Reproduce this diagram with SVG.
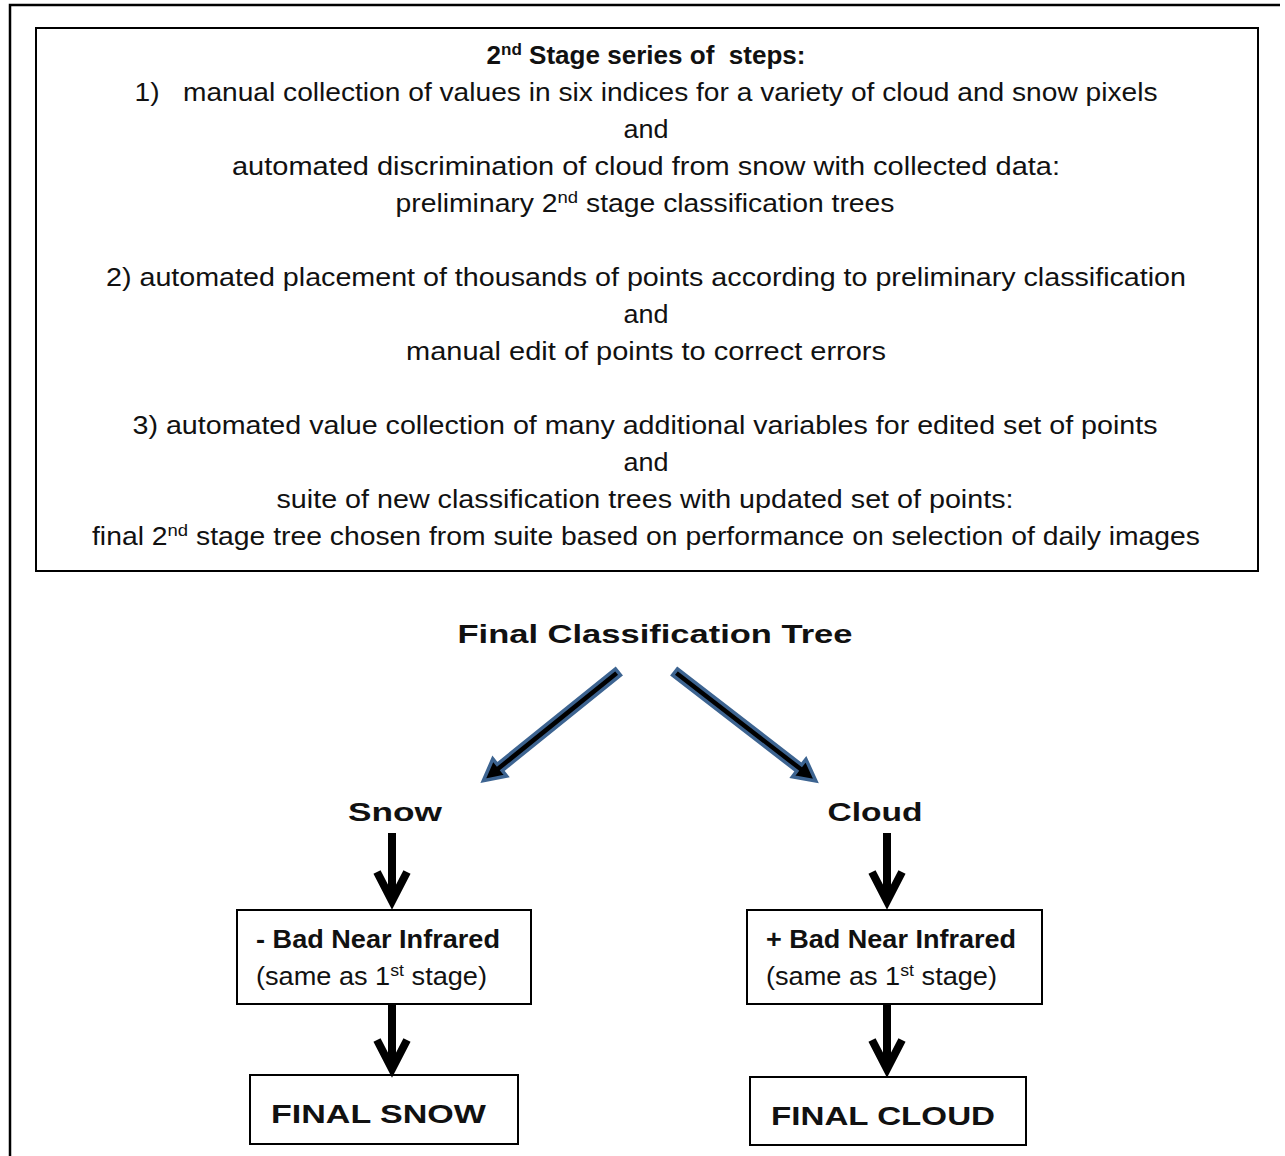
<svg xmlns="http://www.w3.org/2000/svg" width="1285" height="1156" viewBox="0 0 1285 1156">
<style>
.t{font-family:"Liberation Sans",Arial,sans-serif;font-size:26px;fill:#111;white-space:pre;}
.b{font-weight:bold;}
.box{fill:#fff;stroke:#000;stroke-width:2;}
.va{stroke:#000;stroke-width:8;fill:none;}
.da{fill:#000;stroke:#3d6491;stroke-width:3.5;stroke-linejoin:miter;}
</style>
<rect width="1285" height="1156" fill="#fff"/>
<path d="M10,1156 V5 H1280" fill="none" stroke="#000" stroke-width="2.5"/>
<g id="steps">
<rect class="box" x="36" y="28" width="1222" height="543"/>
<text class="t b" x="646" y="64" text-anchor="middle" font-size="27" textLength="319" lengthAdjust="spacingAndGlyphs" xml:space="preserve">2<tspan font-size="17" baseline-shift="super">nd</tspan> Stage series of  steps:</text>
<text class="t" x="646" y="101" text-anchor="middle" textLength="1023" lengthAdjust="spacingAndGlyphs" xml:space="preserve">1)   manual collection of values in six indices for a variety of cloud and snow pixels</text>
<text class="t" x="646" y="138" text-anchor="middle" textLength="45" lengthAdjust="spacingAndGlyphs">and</text>
<text class="t" x="646" y="175" text-anchor="middle" textLength="828" lengthAdjust="spacingAndGlyphs">automated discrimination of cloud from snow with collected data:</text>
<text class="t" x="645" y="212" text-anchor="middle" textLength="499" lengthAdjust="spacingAndGlyphs">preliminary 2<tspan font-size="17" baseline-shift="super">nd</tspan> stage classification trees</text>
<text class="t" x="646" y="286" text-anchor="middle" textLength="1080" lengthAdjust="spacingAndGlyphs">2) automated placement of thousands of points according to preliminary classification</text>
<text class="t" x="646" y="323" text-anchor="middle" textLength="45" lengthAdjust="spacingAndGlyphs">and</text>
<text class="t" x="646" y="360" text-anchor="middle" textLength="480" lengthAdjust="spacingAndGlyphs">manual edit of points to correct errors</text>
<text class="t" x="645" y="434" text-anchor="middle" textLength="1025" lengthAdjust="spacingAndGlyphs">3) automated value collection of many additional variables for edited set of points</text>
<text class="t" x="646" y="471" text-anchor="middle" textLength="45" lengthAdjust="spacingAndGlyphs">and</text>
<text class="t" x="645" y="508" text-anchor="middle" textLength="737" lengthAdjust="spacingAndGlyphs">suite of new classification trees with updated set of points:</text>
<text class="t" x="646" y="545" text-anchor="middle" textLength="1108" lengthAdjust="spacingAndGlyphs">final 2<tspan font-size="17" baseline-shift="super">nd</tspan> stage tree chosen from suite based on performance on selection of daily images</text>
</g>
<g id="title">
<text class="t b" x="655" y="643" text-anchor="middle" font-size="37" textLength="395" lengthAdjust="spacingAndGlyphs">Final Classification Tree</text>
</g>
<g id="snow-label">
<text class="t b" x="395" y="821" text-anchor="middle" font-size="37" textLength="94" lengthAdjust="spacingAndGlyphs">Snow</text>
</g>
<g id="cloud-label">
<text class="t b" x="875" y="821" text-anchor="middle" font-size="37" textLength="95" lengthAdjust="spacingAndGlyphs">Cloud</text>
</g>
<g id="snow-nir">
<rect class="box" x="237" y="910" width="294" height="94"/>
<text class="t b" x="256" y="948" font-size="27" textLength="244" lengthAdjust="spacingAndGlyphs">- Bad Near Infrared</text>
<text class="t" x="256" y="985" textLength="231" lengthAdjust="spacingAndGlyphs">(same as 1<tspan font-size="17" baseline-shift="super">st</tspan> stage)</text>
</g>
<g id="cloud-nir">
<rect class="box" x="747" y="910" width="295" height="94"/>
<text class="t b" x="766" y="948" font-size="27" textLength="250" lengthAdjust="spacingAndGlyphs">+ Bad Near Infrared</text>
<text class="t" x="766" y="985" textLength="231" lengthAdjust="spacingAndGlyphs">(same as 1<tspan font-size="17" baseline-shift="super">st</tspan> stage)</text>
</g>
<g id="final-snow">
<rect class="box" x="250" y="1075" width="268" height="69"/>
<text class="t b" x="271" y="1123" font-size="38" textLength="215" lengthAdjust="spacingAndGlyphs">FINAL SNOW</text>
</g>
<g id="final-cloud">
<rect class="box" x="750" y="1077" width="276" height="68"/>
<text class="t b" x="771" y="1125" font-size="38" textLength="224" lengthAdjust="spacingAndGlyphs">FINAL CLOUD</text>
</g>
<g id="connectors">
<polygon class="da" transform="translate(618,672) rotate(141.1)" points="0,-4 152,-4 152,-11 173,0 152,11 152,4 0,4"/>
<polygon class="da" transform="translate(675,672) rotate(37.7)" points="0,-4 157,-4 157,-11 178,0 157,11 157,4 0,4"/>
<line class="va" x1="392" y1="833" x2="392" y2="900"/>
<polyline class="va" points="377,872 392,901 407,872"/>
<line class="va" x1="392" y1="1004" x2="392" y2="1068"/>
<polyline class="va" points="377,1040 392,1069 407,1040"/>
<line class="va" x1="887" y1="833" x2="887" y2="900"/>
<polyline class="va" points="872,872 887,901 902,872"/>
<line class="va" x1="887" y1="1004" x2="887" y2="1068"/>
<polyline class="va" points="872,1040 887,1069 902,1040"/>
</g>
</svg>
